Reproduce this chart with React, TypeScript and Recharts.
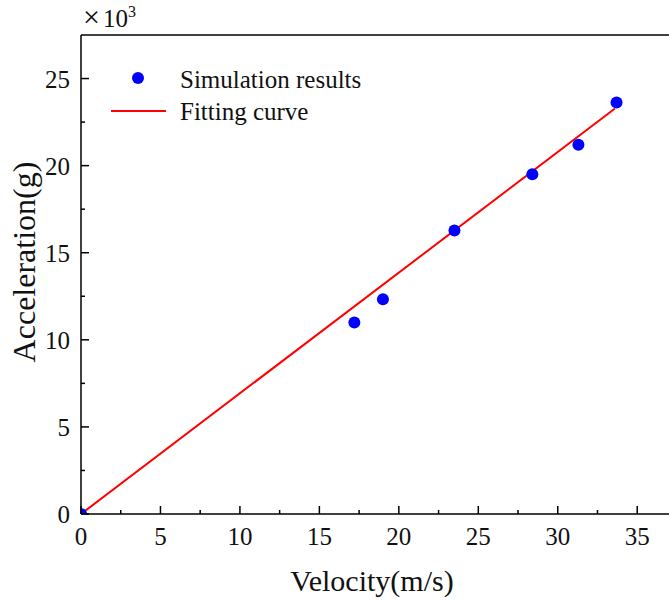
import {
  ComposedChart,
  Scatter,
  Line,
  XAxis,
  YAxis,
  ReferenceLine,
  Legend,
  Label,
} from "recharts";

// simulation results (velocity in m/s, acceleration in 10^3 g)
const velocity = [0, 17.2, 19.0, 23.5, 28.4, 31.3, 33.7];
const acceleration = [0, 11.0, 12.33, 16.28, 19.5, 21.2, 23.62];

// fitted straight line end points
const fitVelocity = [0, 33.6];
const fitAcceleration = [0, 23.28];

const xTicks = [0, 2.5, 5, 7.5, 10, 12.5, 15, 17.5, 20, 22.5, 25, 27.5, 30, 32.5, 35];
const yTicks = [0, 2.5, 5, 7.5, 10, 12.5, 15, 17.5, 20, 22.5, 25];

const FONT = "'Liberation Serif', 'Times New Roman', serif";

const simData = velocity.map((x, i) => ({ x, y: acceleration[i] }));
const fitData = fitVelocity.map((x, i) => ({ x, y: fitAcceleration[i] }));

function XTick(props: any) {
  const { x, y, payload } = props;
  const major = payload.value % 5 === 0;
  return (
    <g>
      <line x1={x} x2={x} y1={y} y2={y - (major ? 8 : 4)} stroke="#000" strokeWidth={1.5} />
      {major && (
        <text x={x} y={y + 31} textAnchor="middle" fontSize={25} fontFamily={FONT} fill="#111">
          {payload.value}
        </text>
      )}
    </g>
  );
}

function YTick(props: any) {
  const { x, y, payload } = props;
  const major = payload.value % 5 === 0;
  return (
    <g>
      <line x1={x} x2={x + (major ? 8 : 4)} y1={y} y2={y} stroke="#000" strokeWidth={1.5} />
      {major && (
        <text x={x - 11} y={y + 9} textAnchor="end" fontSize={25} fontFamily={FONT} fill="#111">
          {payload.value}
        </text>
      )}
    </g>
  );
}

function LegendBox() {
  return (
    <svg width={320} height={80} style={{ display: "block" }}>
      <circle cx={38} cy={22} r={6} fill="#0000ff" />
      <text x={80} y={32} fontSize={25} fontFamily={FONT} fill="#111">
        Simulation results
      </text>
      <line x1={11} x2={66} y1={55} y2={55} stroke="#ff0000" strokeWidth={2} />
      <text x={80} y={64} fontSize={25} fontFamily={FONT} fill="#111">
        Fitting curve
      </text>
    </svg>
  );
}

export default function App() {
  return (
    <div style={{ position: "absolute", left: 0, top: 0, width: 669, height: 601, background: "#fff" }}>
      <ComposedChart width={669} height={601} margin={{ top: 35, right: 0, bottom: 0, left: 0 }}>
        <XAxis
          type="number"
          dataKey="x"
          domain={[0, 37]}
          ticks={xTicks}
          interval={0}
          allowDataOverflow
          height={87}
          tickSize={0}
          tickMargin={0}
          tick={<XTick />}
          axisLine={{ stroke: "#000", strokeWidth: 1.5 }}
        >
          <Label
            content={() => (
              <text x={372} y={591} textAnchor="middle" fontSize={30} fontFamily={FONT} fill="#111">
                Velocity(m/s)
              </text>
            )}
          />
        </XAxis>
        <YAxis
          type="number"
          domain={[0, 27.5]}
          ticks={yTicks}
          interval={0}
          allowDataOverflow
          width={81}
          tickSize={0}
          tickMargin={0}
          tick={<YTick />}
          axisLine={{ stroke: "#000", strokeWidth: 1.5 }}
        >
          <Label
            content={() => (
              <text
                x={35}
                y={262}
                textAnchor="middle"
                fontSize={32}
                fontFamily={FONT}
                fill="#111"
                transform="rotate(-90, 35, 262)"
              >
                Acceleration(g)
              </text>
            )}
          />
          <Label
            content={() => (
              <text x={83} y={27} fontFamily={FONT} fill="#111">
                <tspan fontSize={30}>×</tspan>
                <tspan fontSize={25} dx={3}>10</tspan>
                <tspan dy={-10} fontSize={16}>
                  3
                </tspan>
              </text>
            )}
          />
        </YAxis>
        <ReferenceLine y={27.5} stroke="#000" strokeWidth={1.5} />
        <Line
          data={fitData}
          dataKey="y"
          type="linear"
          stroke="#ff0000"
          strokeWidth={2}
          dot={false}
          activeDot={false}
          isAnimationActive={false}
        />
        <Scatter
          data={simData}
          dataKey="y"
          fill="#0000ff"
          shape={(p: any) => <circle cx={p.cx} cy={p.cy} r={6} fill="#0000ff" />}
          isAnimationActive={false}
        />
        <Legend
          layout="vertical"
          align="center"
          verticalAlign="middle"
          wrapperStyle={{ left: 100, top: 56, width: 320 }}
          content={() => <LegendBox />}
        />
      </ComposedChart>
    </div>
  );
}
